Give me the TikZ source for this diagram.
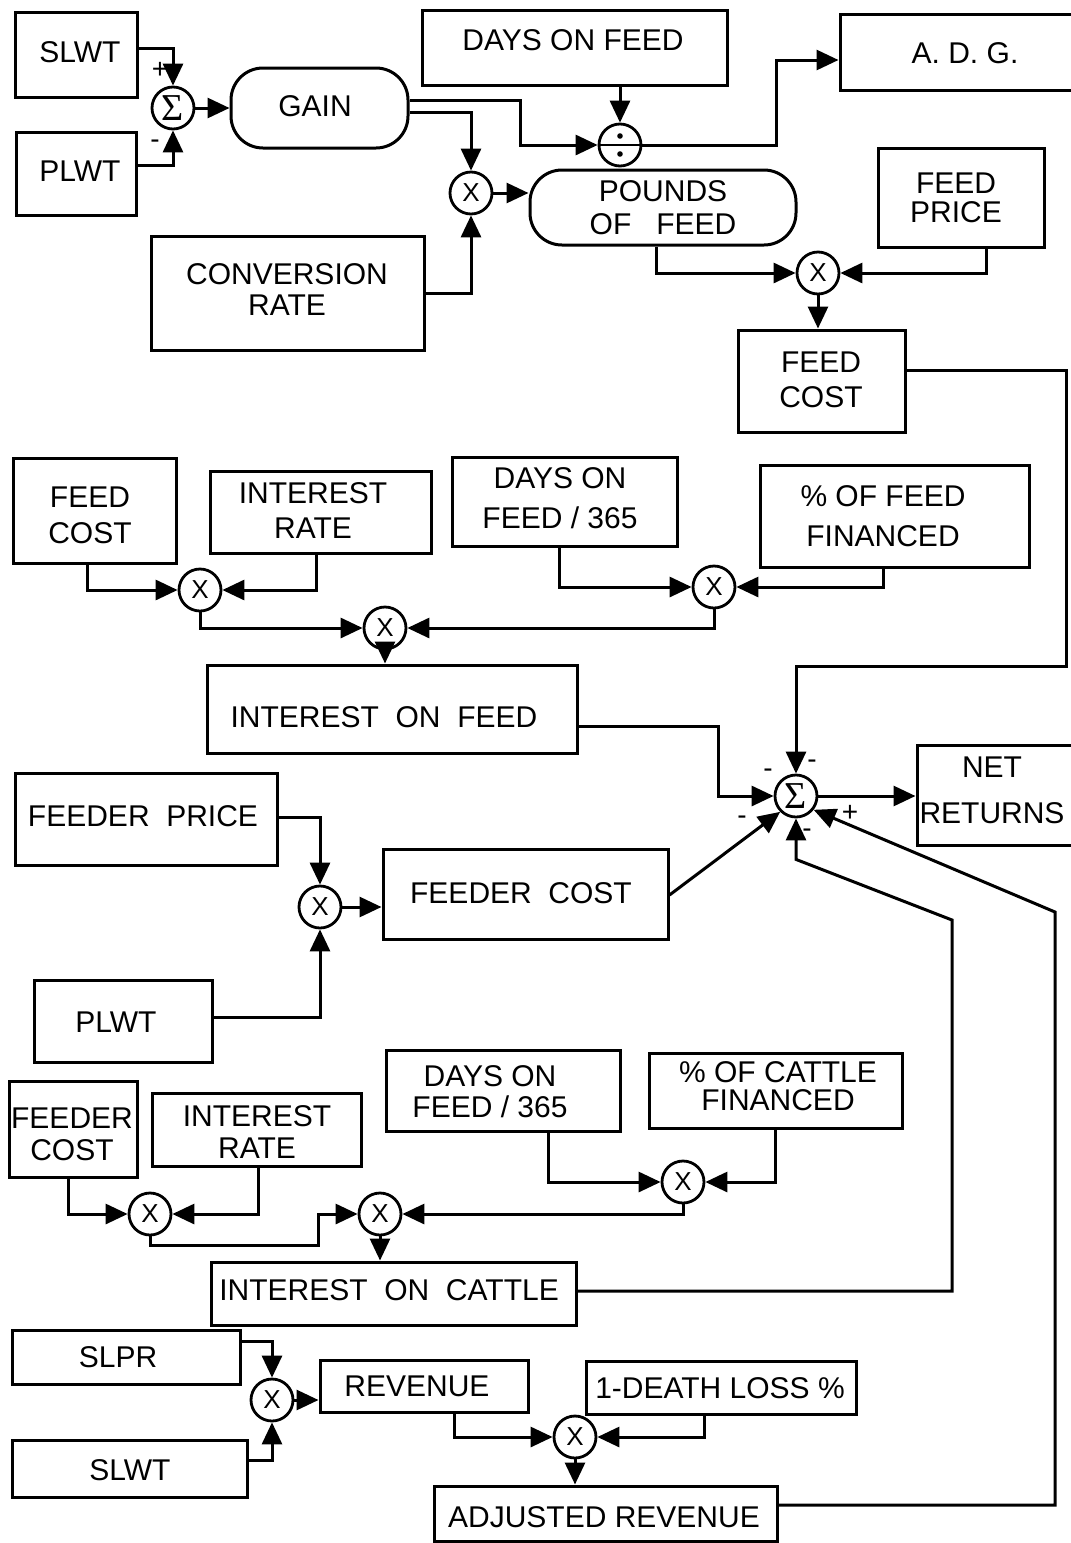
\documentclass[tikz,border=0pt]{standalone}
\usepackage{fontspec}
\setmainfont{Liberation Sans}
\newfontfamily\sigfont{Liberation Serif}
\usetikzlibrary{arrows.meta,calc}
\tikzset{
 box/.style={draw, line width=1.5pt, rectangle, inner sep=0pt},
 rbox/.style={box, rounded corners=16pt},
 op/.style={draw, circle, line width=1.4pt, minimum size=21pt, inner sep=0pt, font=\fontsize{13}{13}\selectfont},
 sop/.style={op, font=\sigfont\fontsize{19}{19}\selectfont},
 txt/.style={inner sep=0pt, align=center, font=\fontsize{15}{#1}\selectfont},
 txt/.default=17pt,
 conn/.style={line width=1.5pt, -{Triangle[length=11pt,width=10pt]}},
 wire/.style={line width=1.4pt},
 sgn/.style={inner sep=0pt, font=\fontsize{14}{14}\selectfont},
}
\newcommand\bx[6][box]{\node[#1, minimum width={0.5pt*(#5-#3)}, minimum height={0.5pt*(#6-#4)}] (#2) at ({(#3+#5)/2},{(#4+#6)/2}) {};}
\begin{document}
\begin{tikzpicture}[x=0.5pt,y=-0.5pt]
\useasboundingbox (0,0) rectangle (1071,1543);
% ---------- top section
\bx{slwtA}{15}{12}{137}{97}
\node[txt] (slwtAt) at (80,52) {SLWT};
\bx{plwtA}{16}{132}{136}{215}
\node[txt] (plwtAt) at (80,171) {PLWT};
\node[sop] (s1) at (173,108) {Σ};
\node[sgn] (s1p) at (160,70) {+};
\node[sgn] (s1m) at (155,144) {-};
\bx[rbox]{gain}{231}{68}{408}{148}
\node[txt] (gaint) at (315,106) {GAIN};
\bx{dof}{422}{10}{727}{85}
\node[txt] (doft) at (573,40) {DAYS ON FEED};
\bx{adg}{840}{14}{1090}{90}
\node[txt] (adgt) at (965,53) {A. D. G.};
\node[op] (dv) at (620,145) {};
\draw[wire] (dv.west) -- (dv.east);
\fill ($(dv.center)+(0,-9)$) circle (1.4pt);
\fill ($(dv.center)+(0,9)$) circle (1.4pt);
\node[op] (m1) at (471,193) {X};
\bx{conv}{151}{236}{424}{350}
\node[txt=15.5pt] (convt) at (287,290) {CONVERSION\\RATE};
\bx[rbox]{pof}{530}{170}{796}{245}
\node[txt=16.5pt] (poft) at (663,208) {POUNDS\\OF\ \ \ FEED};
\bx{fp}{878}{148}{1044}{247}
\node[txt=14.5pt] (fpt) at (956,198) {FEED\\PRICE};
\node[op] (m2) at (818,273) {X};
\bx{fcA}{738}{330}{905}{432}
\node[txt=17.5pt] (fcAt) at (821,380) {FEED\\COST};
\draw[conn] (slwtA.east |- 0,48) -| (s1.north);
\draw[conn] (plwtA.east |- 0,165) -| (s1.south);
\draw[conn] (s1.east) -- (gain.west);
\draw[conn] (gain.east |- 0,100) -| (520,145) -- (dv.west);
\draw[conn] (gain.east |- 0,112) -| (m1.north);
\draw[conn] (dof.south -| dv.north) -- (dv.north);
\draw[conn] (dv.east) -| (776,60) -- (adg.west |- 0,60);
\draw[conn] (conv.east |- 0,293) -| (m1.south);
\draw[conn] (m1.east) -- (pof.west |- m1.east);
\draw[conn] (pof.south -| 656,0) |- (m2.west);
\draw[conn] (fp.south -| 986,0) |- (m2.east);
\draw[conn] (m2.south) -- (fcA.north -| m2.south);
% ---------- interest on feed
\bx{fcB}{13}{458}{176}{563}
\node[txt=18pt] (fcBt) at (90,515) {FEED\\COST};
\bx{irA}{210}{471}{431}{553}
\node[txt=17.5pt] (irAt) at (313,511) {INTEREST\\RATE};
\bx{dofA}{452}{457}{677}{546}
\node[txt=20pt] (dofAt) at (560,498) {DAYS ON\\FEED / 365};
\bx{pff}{760}{465}{1029}{567}
\node[txt=20pt] (pfft) at (883,516) {\% OF FEED\\FINANCED};
\node[op] (mA) at (200,590) {X};
\node[op] (mB) at (714,587) {X};
\node[op] (mC) at (385,628) {X};
\bx{iof}{207}{665}{577}{753}
\node[txt] (ioft) at (384,717) {INTEREST\ \ ON\ \ FEED};
\draw[conn] (fcB.south -| 87,0) |- (mA.west);
\draw[conn] (irA.south -| 316,0) |- (mA.east);
\draw[conn] (dofA.south -| 559,0) |- (mB.west);
\draw[conn] (pff.south -| 883,0) |- (mB.east);
\draw[conn] (mA.south) |- (mC.west);
\draw[conn] (mB.south) |- (mC.east);
\draw[conn] (mC.south) -- (iof.north -| mC.south);
% ---------- net returns
\node[sop] (sum) at (796,796) {Σ};
\bx{net}{917}{745}{1090}{845}
\node[txt=23pt] (nett) at (992,790) {NET\\RETURNS};
\node[sgn] (sg1) at (812,764) {-};
\node[sgn] (sg2) at (768,773) {-};
\node[sgn] (sg3) at (742,820) {-};
\node[sgn] (sg4) at (807,833) {-};
\node[sgn] (sg5) at (850,813) {+};
\draw[conn] (fcA.east |- 0,370) -| (1066,666) -| (sum.north);
\draw[conn] (iof.east |- 0,726) -| (718,796) -- (sum.west);
\draw[conn] (sum.east) -- (net.west |- sum.east);
% ---------- feeder cost
\bx{fpr}{15}{773}{277}{865}
\node[txt] (fprt) at (143,816) {FEEDER\ \ PRICE};
\node[op] (f1) at (320,907) {X};
\bx{fdc}{383}{849}{668}{939}
\node[txt] (fdct) at (521,893) {FEEDER\ \ COST};
\bx{plwtB}{34}{980}{212}{1062}
\node[txt] (plwtBt) at (116,1022) {PLWT};
\draw[conn] (fpr.east |- 0,817) -| (f1.north);
\draw[conn] (plwtB.east |- 0,1017) -| (f1.south);
\draw[conn] (f1.east) -- (fdc.west |- f1.east);
\draw[conn] (fdc.east |- 0,895) -- (sum.225);
% ---------- interest on cattle
\bx{dofB}{386}{1050}{620}{1131}
\node[txt=15.5pt] (dofBt) at (490,1092) {DAYS ON\\FEED / 365};
\bx{pcf}{649}{1053}{902}{1128}
\node[txt=14pt] (pcft) at (778,1086) {\% OF CATTLE\\FINANCED};
\bx{fdcB}{9}{1081}{137}{1177}
\node[txt=16pt] (fdcBt) at (72,1134) {FEEDER\\COST};
\bx{irB}{152}{1093}{361}{1166}
\node[txt=16pt] (irBt) at (257,1132) {INTEREST\\RATE};
\node[op] (c1) at (150,1214) {X};
\node[op] (c2) at (380,1214) {X};
\node[op] (c3) at (683,1182) {X};
\bx{ioc}{211}{1262}{576}{1325}
\node[txt] (ioct) at (389,1290) {INTEREST\ \ ON\ \ CATTLE};
\draw[conn] (fdcB.south -| 68,0) |- (c1.west);
\draw[conn] (irB.south -| 258,0) |- (c1.east);
\draw[conn] (dofB.south -| 548,0) |- (c3.west);
\draw[conn] (pcf.south -| 775,0) |- (c3.east);
\draw[conn] (c1.south) |- (318,1245) |- (c2.west);
\draw[conn] (c3.south) |- (c2.east);
\draw[conn] (c2.south) -- (ioc.north -| c2.south);
\draw[conn] (ioc.east |- 0,1291) -| (952,920) -- ($(sum.south)+(0,41)$) -- (sum.south);
% ---------- revenue
\bx{slpr}{12}{1330}{240}{1384}
\node[txt] (slprt) at (118,1357) {SLPR};
\bx{slwtB}{12}{1440}{247}{1497}
\node[txt] (slwtBt) at (130,1470) {SLWT};
\node[op] (s2) at (272,1400) {X};
\bx{rev}{320}{1360}{528}{1412}
\node[txt] (revt) at (417,1386) {REVENUE};
\bx{dl}{586}{1361}{856}{1414}
\node[txt] (dlt) at (720,1388) {1-DEATH LOSS \%};
\node[op] (s3) at (575,1437) {X};
\bx{adj}{434}{1486}{777}{1541}
\node[txt] (adjt) at (604,1517) {ADJUSTED REVENUE};
\draw[conn] (slpr.east |- 0,1341) -| (s2.north);
\draw[conn] (slwtB.east |- 0,1460) -| (s2.south);
\draw[conn] (s2.east) -- (rev.west |- s2.east);
\draw[conn] (rev.south -| 454,0) |- (s3.west);
\draw[conn] (dl.south -| 704,0) |- (s3.east);
\draw[conn] (s3.south) -- (adj.north -| s3.south);
\draw[conn] (adj.east |- 0,1505) -| (1055,912) -- (sum.-38);
\end{tikzpicture}
\end{document}
